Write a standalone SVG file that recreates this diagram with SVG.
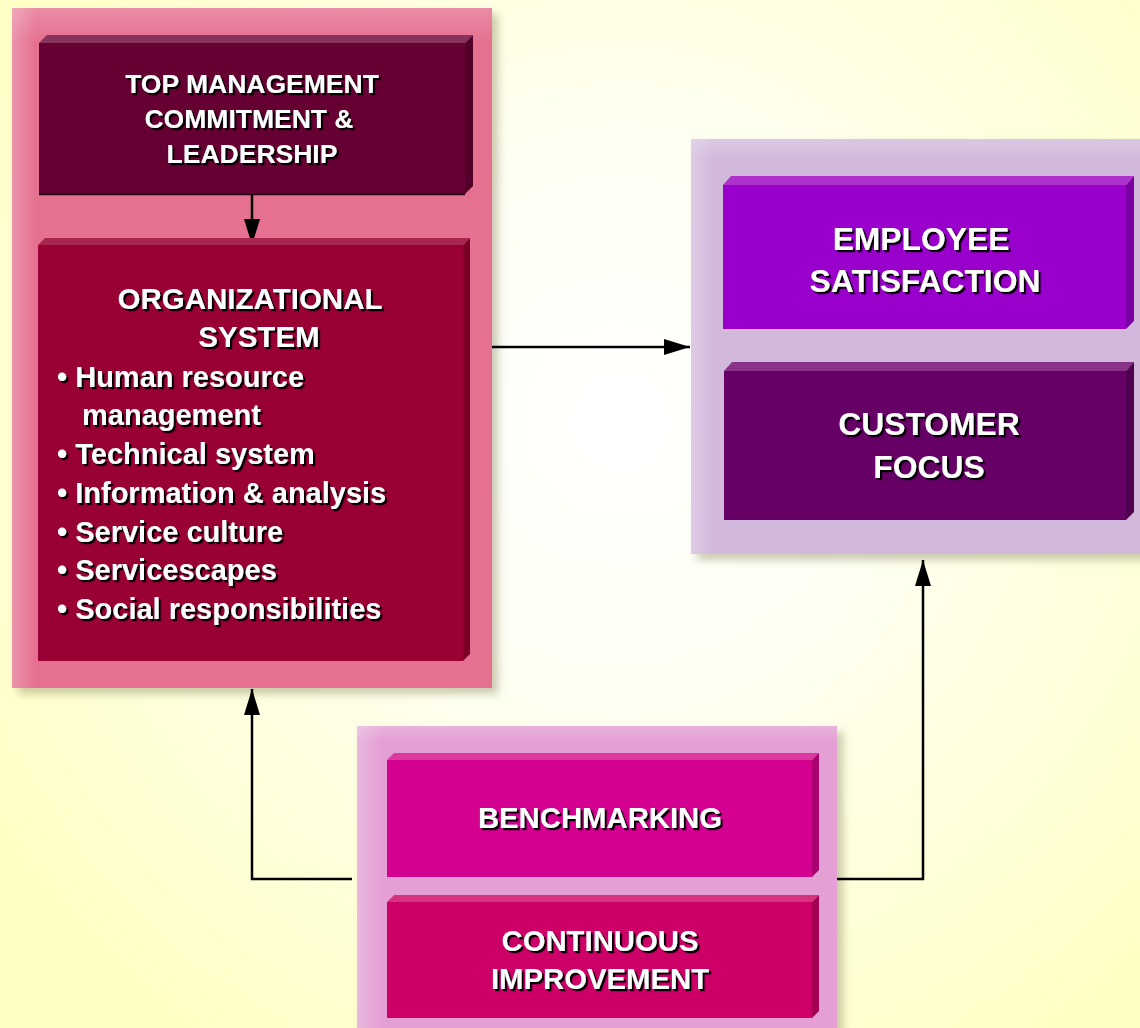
<svg xmlns="http://www.w3.org/2000/svg" width="1140" height="1028" viewBox="0 0 1140 1028">
<defs>
<radialGradient id="bg" cx="620" cy="420" r="760" gradientUnits="userSpaceOnUse">
<stop offset="0" stop-color="#ffffff"/>
<stop offset="0.35" stop-color="#fffff4"/>
<stop offset="1" stop-color="#ffffc4"/>
</radialGradient>
<linearGradient id="edgeL" x1="0" y1="0" x2="1" y2="0">
<stop offset="0" stop-color="#ffffff" stop-opacity="0.25"/>
<stop offset="0.05" stop-color="#ffffff" stop-opacity="0"/>
</linearGradient>
<linearGradient id="edgeT" x1="0" y1="0" x2="0" y2="1">
<stop offset="0" stop-color="#ffffff" stop-opacity="0.2"/>
<stop offset="0.05" stop-color="#ffffff" stop-opacity="0"/>
</linearGradient>
<filter id="pshadow" x="-5%" y="-5%" width="115%" height="115%">
<feDropShadow dx="6" dy="6" stdDeviation="4" flood-color="#8a8a60" flood-opacity="0.45"/>
</filter>
<filter id="tshadow" x="-5%" y="-20%" width="110%" height="150%">
<feDropShadow dx="2.2" dy="2.2" stdDeviation="0.7" flood-color="#000000" flood-opacity="1"/>
</filter>
<marker id="arr" viewBox="0 0 26 16" refX="26" refY="8" markerWidth="26" markerHeight="16" markerUnits="userSpaceOnUse" orient="auto">
<path d="M0,0 L26,8 L0,16 Z" fill="#000"/>
</marker>
</defs>
<style>
.t{font-family:"Liberation Sans",Arial,sans-serif;font-weight:bold;fill:#ffffff;filter:url(#tshadow)}
.c{text-anchor:middle}
.ln{stroke:#000;stroke-width:2.5;fill:none}
</style>
<rect x="0" y="0" width="1140" height="1028" fill="url(#bg)"/>

<g id="panel-left">
<rect x="12" y="8" width="480" height="680" fill="#e57090" filter="url(#pshadow)"/>
<rect x="12" y="8" width="480" height="680" fill="url(#edgeL)"/>
<rect x="12" y="8" width="480" height="680" fill="url(#edgeT)"/>
</g>
<g id="panel-right">
<rect x="691" y="139" width="460" height="415" fill="#d2b9dc" filter="url(#pshadow)"/>
<rect x="691" y="139" width="460" height="415" fill="url(#edgeL)"/>
<rect x="691" y="139" width="460" height="415" fill="url(#edgeT)"/>
</g>
<g id="panel-bottom">
<rect x="357" y="726" width="480" height="310" fill="#e4a0d4" filter="url(#pshadow)"/>
<rect x="357" y="726" width="480" height="310" fill="url(#edgeL)"/>
<rect x="357" y="726" width="480" height="310" fill="url(#edgeT)"/>
</g>

<g id="connectors">
<line class="ln" x1="252" y1="194" x2="252" y2="245" marker-end="url(#arr)"/>
<line class="ln" x1="492" y1="347" x2="690" y2="347" marker-end="url(#arr)"/>
<polyline class="ln" points="352,879 252,879 252,689" marker-end="url(#arr)"/>
<polyline class="ln" points="837,879 923,879 923,560" marker-end="url(#arr)"/>
</g>

<g id="top-management">
<polygon points="39,43 47,35 473,35 465,43" fill="#88335b"/>
<polygon points="465,43 473,35 473,186 465,194" fill="#52002a"/>
<rect x="39" y="43" width="426" height="151" fill="#660033"/>
<line x1="39" y1="194.5" x2="465" y2="194.5" stroke="#1a0010" stroke-width="1.5"/>
<text class="t c" x="252" y="93" font-size="26.5">TOP MANAGEMENT</text>
<text class="t c" x="249" y="128" font-size="26.5">COMMITMENT &amp;</text>
<text class="t c" x="252" y="163" font-size="26.5">LEADERSHIP</text>
</g>

<g id="organizational-system">
<polygon points="38,245 45,238 470,238 463,245" fill="#a92650"/>
<polygon points="463,245 470,238 470,654 463,661" fill="#7a0028"/>
<rect x="38" y="245" width="425" height="416" fill="#990033"/>
<text class="t c" x="250" y="309" font-size="29.5">ORGANIZATIONAL</text>
<text class="t c" x="259" y="347" font-size="29.5">SYSTEM</text>
<g font-size="29">
<text class="t" x="57" y="387">• Human resource</text>
<text class="t" x="82" y="425">management</text>
<text class="t" x="57" y="464">• Technical system</text>
<text class="t" x="57" y="503">• Information &amp; analysis</text>
<text class="t" x="57" y="542">• Service culture</text>
<text class="t" x="57" y="580">• Servicescapes</text>
<text class="t" x="57" y="619">• Social responsibilities</text>
</g>
</g>

<g id="employee-satisfaction">
<polygon points="723,185 731,176 1134,176 1126,185" fill="#ad33cc"/>
<polygon points="1126,185 1134,176 1134,321 1126,329" fill="#7a00a3"/>
<rect x="723" y="185" width="403" height="144" fill="#9900cc"/>
<text class="t c" x="921" y="250" font-size="31.8">EMPLOYEE</text>
<text class="t c" x="925" y="292" font-size="31.8">SATISFACTION</text>
</g>

<g id="customer-focus">
<polygon points="724,371 732,362 1134,362 1126,371" fill="#883388"/>
<polygon points="1126,371 1134,362 1134,512 1126,520" fill="#4e004e"/>
<rect x="724" y="371" width="402" height="149" fill="#660066"/>
<text class="t c" x="929" y="435" font-size="31.8">CUSTOMER</text>
<text class="t c" x="929" y="478" font-size="31.8">FOCUS</text>
</g>

<g id="benchmarking">
<polygon points="387,760 394,753 819,753 812,760" fill="#dc3aa0"/>
<polygon points="812,760 819,753 819,870 812,877" fill="#a8006f"/>
<rect x="387" y="760" width="425" height="117" fill="#d4008f"/>
<text class="t c" x="600" y="828" font-size="29.3">BENCHMARKING</text>
</g>

<g id="continuous-improvement">
<polygon points="387,902 394,895 819,895 812,902" fill="#d6337f"/>
<polygon points="812,902 819,895 819,1011 812,1018" fill="#a30052"/>
<rect x="387" y="902" width="425" height="116" fill="#cc0066"/>
<text class="t c" x="600" y="951" font-size="29.3">CONTINUOUS</text>
<text class="t c" x="600" y="989" font-size="29.3">IMPROVEMENT</text>
</g>
</svg>
